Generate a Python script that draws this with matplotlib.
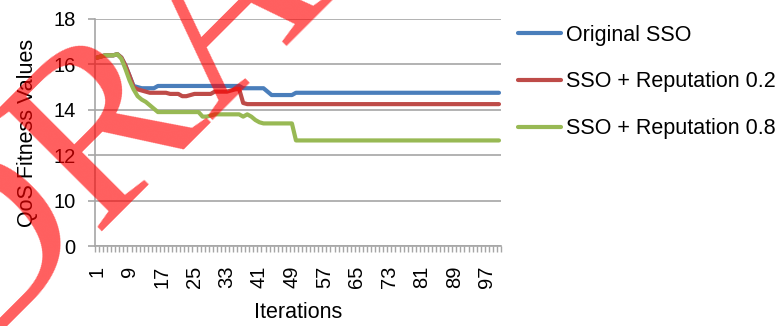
import matplotlib
matplotlib.use("Agg")
import matplotlib.pyplot as plt
import numpy as np

plt.rcParams['font.family'] = ['Liberation Sans', 'DejaVu Sans']

# fitness per iteration (1..100)
iterations = list(range(1, 101))

original_sso = [
    16.30, 16.35, 16.40, 16.40, 16.40, 16.45, 16.30, 15.95, 15.50, 15.05,
    15.00, 14.95, 14.95, 14.95, 14.95, 15.05, 15.05, 15.05, 15.05, 15.05,
    15.05, 15.05, 15.05, 15.05, 15.05, 15.05, 15.05, 15.05, 15.05, 15.05,
    15.05, 15.05, 15.05, 15.05, 15.05, 15.05, 14.95, 14.95, 14.95, 14.95,
    14.95, 14.95, 14.80, 14.65, 14.65, 14.65, 14.65, 14.65, 14.65, 14.75,
    14.75, 14.75, 14.75, 14.75, 14.75, 14.75, 14.75, 14.75, 14.75, 14.75,
    14.75, 14.75, 14.75, 14.75, 14.75, 14.75, 14.75, 14.75, 14.75, 14.75,
    14.75, 14.75, 14.75, 14.75, 14.75, 14.75, 14.75, 14.75, 14.75, 14.75,
    14.75, 14.75, 14.75, 14.75, 14.75, 14.75, 14.75, 14.75, 14.75, 14.75,
    14.75, 14.75, 14.75, 14.75, 14.75, 14.75, 14.75, 14.75, 14.75, 14.75,
]

reputation_02 = [
    16.30, 16.35, 16.40, 16.40, 16.40, 16.45, 16.30, 15.95, 15.50, 15.00,
    14.90, 14.85, 14.80, 14.75, 14.75, 14.75, 14.75, 14.75, 14.70, 14.70,
    14.70, 14.60, 14.60, 14.65, 14.70, 14.70, 14.70, 14.70, 14.70, 14.80,
    14.80, 14.80, 14.80, 14.85, 14.90, 14.92, 14.30, 14.25, 14.25, 14.25,
    14.25, 14.25, 14.25, 14.25, 14.25, 14.25, 14.25, 14.25, 14.25, 14.25,
    14.25, 14.25, 14.25, 14.25, 14.25, 14.25, 14.25, 14.25, 14.25, 14.25,
    14.25, 14.25, 14.25, 14.25, 14.25, 14.25, 14.25, 14.25, 14.25, 14.25,
    14.25, 14.25, 14.25, 14.25, 14.25, 14.25, 14.25, 14.25, 14.25, 14.25,
    14.25, 14.25, 14.25, 14.25, 14.25, 14.25, 14.25, 14.25, 14.25, 14.25,
    14.25, 14.25, 14.25, 14.25, 14.25, 14.25, 14.25, 14.25, 14.25, 14.25,
]

reputation_08 = [
    16.30, 16.35, 16.40, 16.40, 16.40, 16.45, 16.25, 15.80, 15.30, 14.90,
    14.60, 14.45, 14.35, 14.20, 14.05, 13.90, 13.90, 13.90, 13.90, 13.90,
    13.90, 13.90, 13.90, 13.90, 13.90, 13.90, 13.70, 13.70, 13.75, 13.80,
    13.80, 13.80, 13.80, 13.80, 13.80, 13.80, 13.70, 13.80, 13.70, 13.55,
    13.45, 13.40, 13.40, 13.40, 13.40, 13.40, 13.40, 13.40, 13.40, 12.65,
    12.65, 12.65, 12.65, 12.65, 12.65, 12.65, 12.65, 12.65, 12.65, 12.65,
    12.65, 12.65, 12.65, 12.65, 12.65, 12.65, 12.65, 12.65, 12.65, 12.65,
    12.65, 12.65, 12.65, 12.65, 12.65, 12.65, 12.65, 12.65, 12.65, 12.65,
    12.65, 12.65, 12.65, 12.65, 12.65, 12.65, 12.65, 12.65, 12.65, 12.65,
    12.65, 12.65, 12.65, 12.65, 12.65, 12.65, 12.65, 12.65, 12.65, 12.65,
]

series_names = ['Original SSO', 'SSO + Reputation 0.2', 'SSO + Reputation 0.8']
series_colors = ['#4A7EBB', '#BE4B48', '#98B954']

# y axis is broken: bottom gridline labelled 0, the rest 10..18
ytick_pos = [8, 10, 12, 14, 16, 18]
ytick_labels = ['0', '10', '12', '14', '16', '18']
xtick_labels = list(range(1, 101, 8))

grid_col = '#a6a6a6'

fig = plt.figure(figsize=(7.83, 3.26), dpi=100)
ax = fig.add_axes([95 / 783, 1 - 246 / 326, 406 / 783, 227 / 326])

for vals, name, col in zip([original_sso, reputation_02, reputation_08],
                           series_names, series_colors):
    ax.plot(iterations, vals, color=col, lw=3, label=name,
            solid_capstyle='round', solid_joinstyle='round')

ax.set_xlim(0.5, 100.5)
ax.set_ylim(8, 18)
ax.set_yticks(ytick_pos)
ax.set_yticklabels(ytick_labels, fontsize=14.5)
ax.set_xticks(xtick_labels)
ax.set_xticklabels([str(v) for v in xtick_labels], rotation=90, fontsize=14.5)
ax.tick_params(axis='x', length=0, pad=14)
ax.set_xticks(np.arange(0.5, 101, 1), minor=True)
ax.tick_params(axis='x', which='minor', length=4.5, width=1, color=grid_col)
ax.tick_params(axis='y', length=5, width=1.2, color=grid_col, pad=9)

ax.grid(axis='y', color=grid_col, lw=1.2)
ax.set_axisbelow(True)
for side in ['top', 'right']:
    ax.spines[side].set_visible(False)
for side in ['left', 'bottom']:
    ax.spines[side].set_color(grid_col)
    ax.spines[side].set_linewidth(1.2)

ax.set_ylabel('QoS Fitness Values', fontsize=15.5, labelpad=11)
ax.set_xlabel('Iterations', fontsize=15.5, labelpad=10)

fig.legend(loc='upper left', bbox_to_anchor=(509 / 783, 1 - 16 / 326),
           frameon=False, fontsize=15.5, handlelength=2.0, handletextpad=0.25,
           labelspacing=1.2, borderaxespad=0)

# watermark running diagonally up from the bottom-left corner
fig.text(-29 / 783, 1 - 357 / 326, 'DRAFT', family=['Liberation Serif', 'DejaVu Serif'],
         fontsize=176, color='red', alpha=0.63,
         rotation=45, rotation_mode='anchor',
         ha='left', va='baseline', zorder=10)

fig.savefig('out.png', dpi=100)
